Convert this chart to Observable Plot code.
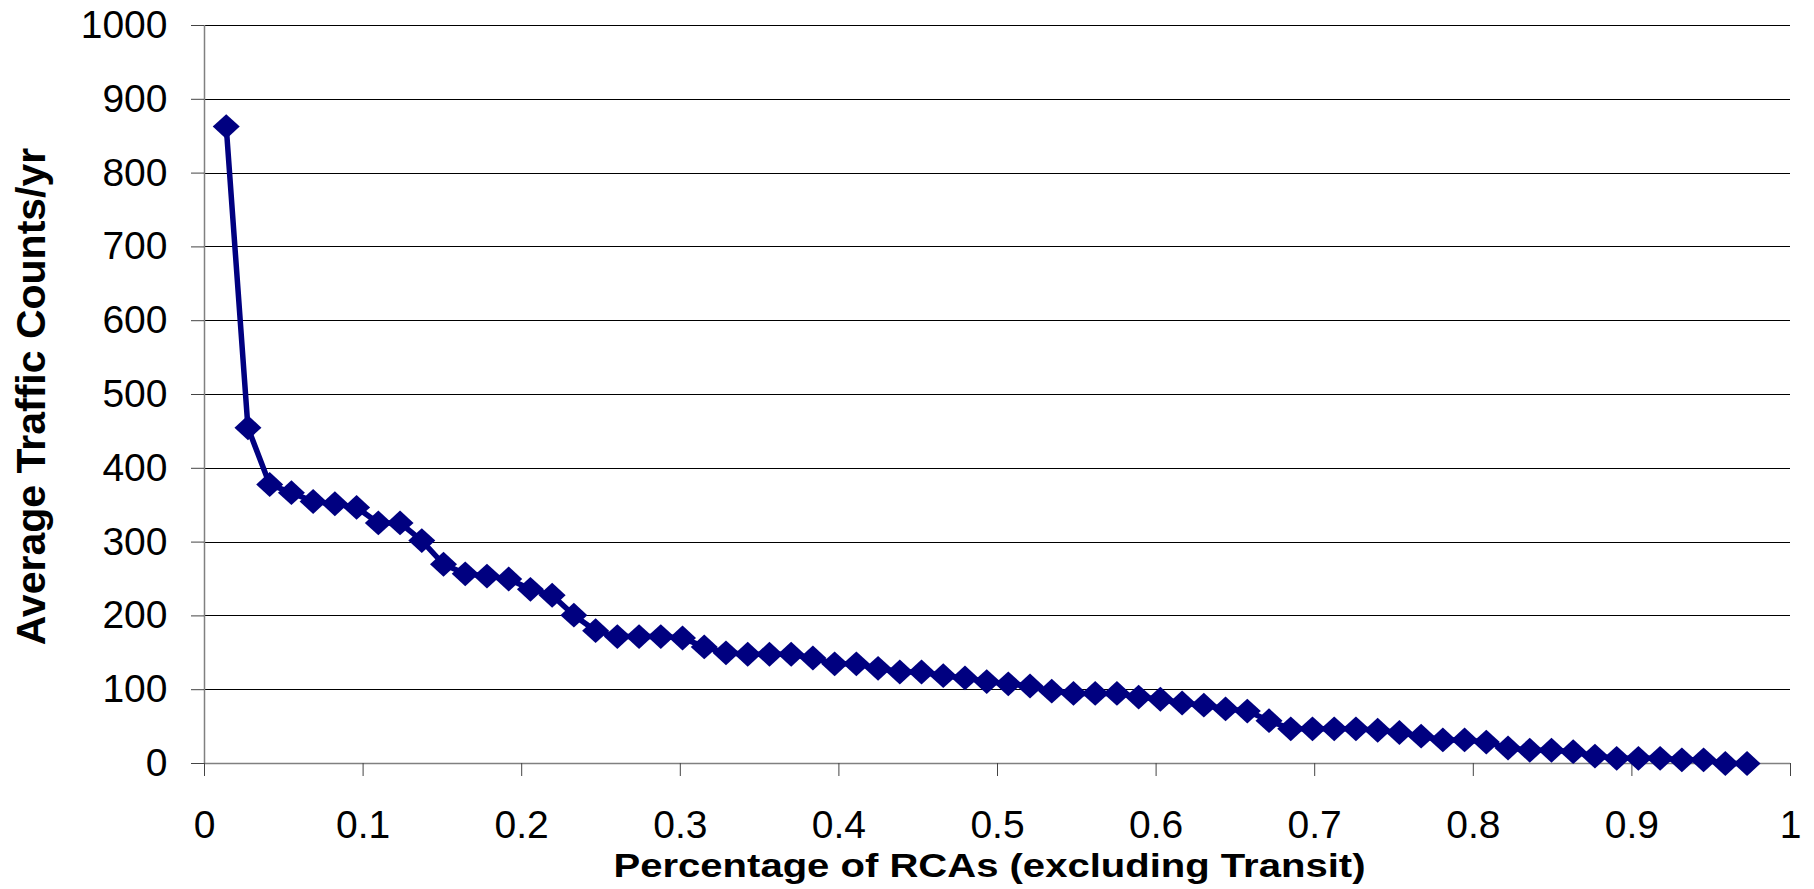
<!DOCTYPE html>
<html>
<head>
<meta charset="utf-8">
<script src="https://cdn.jsdelivr.net/npm/d3@7"></script>
<script src="https://cdn.jsdelivr.net/npm/@observablehq/plot@0.6"></script>
<style>
  html, body { margin: 0; padding: 0; background: #fff; }
  #chart svg { display: block; }
</style>
</head>
<body>
<div id="chart"></div>
<script>
// Share of RCAs (rank order, excluding Transit)
const shareRCAs = [
  0.0137, 0.0274, 0.0411, 0.0548, 0.0685, 0.0822, 0.0959, 0.1096, 0.1233, 0.1370,
  0.1507, 0.1644, 0.1781, 0.1918, 0.2055, 0.2192, 0.2329, 0.2466, 0.2603, 0.2740,
  0.2877, 0.3014, 0.3151, 0.3288, 0.3425, 0.3562, 0.3699, 0.3836, 0.3973, 0.4110,
  0.4247, 0.4384, 0.4521, 0.4658, 0.4795, 0.4932, 0.5068, 0.5205, 0.5342, 0.5479,
  0.5616, 0.5753, 0.5890, 0.6027, 0.6164, 0.6301, 0.6438, 0.6575, 0.6712, 0.6849,
  0.6986, 0.7123, 0.7260, 0.7397, 0.7534, 0.7671, 0.7808, 0.7945, 0.8082, 0.8219,
  0.8356, 0.8493, 0.8630, 0.8767, 0.8904, 0.9041, 0.9178, 0.9315, 0.9452, 0.9589,
  0.9726
];
// Average traffic counts per year
const avgCounts = [
  863, 455, 378, 367, 355, 352, 347, 326, 326, 302,
  270, 257, 254, 250, 236, 228, 201, 180, 172, 172,
  172, 170, 158, 150, 148, 148, 148, 143, 135, 135,
  129, 124, 124, 119, 116, 111, 108, 105, 98, 95,
  95, 95, 90, 87, 82, 79, 74, 71, 58, 47,
  47, 47, 47, 45, 42, 37, 32, 32, 29, 21,
  18, 18, 16, 10, 7, 7, 7, 5, 5, 0,
  0
];
const xTicks = [0, 0.1, 0.2, 0.3, 0.4, 0.5, 0.6, 0.7, 0.8, 0.9, 1];
const yTicks = [0, 100, 200, 300, 400, 500, 600, 700, 800, 900, 1000];
const xTitle = "Percentage of RCAs (excluding Transit)";
const yTitle = "Average Traffic Counts/yr";

const data = shareRCAs.map((x, i) => ({x, y: avgCounts[i]}));

const diamond = {
  draw(ctx, size) {
    const s = Math.sqrt(size / Math.PI);
    const ry = s * 0.92;
    ctx.moveTo(0, -ry);
    ctx.lineTo(s, 0);
    ctx.lineTo(0, ry);
    ctx.lineTo(-s, 0);
    ctx.closePath();
  }
};

const navy = "#000080";

const chart = Plot.plot({
  width: 1814,
  height: 889,
  marginLeft: 204,
  marginRight: 24,
  marginTop: 25,
  marginBottom: 126,
  style: {fontFamily: "'Liberation Sans', Arial, sans-serif", fontSize: "39px", background: "#fff", color: "#000"},
  x: {domain: [0, 1]},
  y: {domain: [0, 1000]},
  marks: [
    Plot.ruleY(yTicks.filter(d => d > 0), {x1: 0, x2: 1, stroke: "#000", strokeWidth: 1, shapeRendering: "crispEdges"}),
    Plot.ruleY([0], {x1: 0, x2: 1, stroke: "#808080", strokeWidth: 1.5}),
    Plot.ruleX([0], {y1: 0, y2: 1000, stroke: "#808080", strokeWidth: 1.5}),
    Plot.axisX({ticks: xTicks, tickSize: 13, tickPadding: 34, tickFormat: d => String(d), label: null, stroke: "#444"}),
    Plot.axisY({ticks: yTicks, tickSize: 13, tickPadding: 24, tickFormat: d => String(d), label: null, stroke: "#444"}),
    Plot.line(data, {x: "x", y: "y", stroke: navy, strokeWidth: 5.5}),
    Plot.dot(data, {x: "x", y: "y", symbol: diamond, r: 13.5, fill: navy, stroke: "none"}),
    Plot.text([yTitle], {text: d => d, frameAnchor: "left", rotate: -90, dx: -173, dy: 2, fontSize: 41, fontWeight: "bold", textAnchor: "middle", lineAnchor: "middle"}),
    Plot.text([xTitle], {text: d => d, frameAnchor: "bottom", dx: -8, dy: 103, fontSize: 34, fontWeight: "bold", textAnchor: "middle", lineAnchor: "middle"})
  ]
});

document.getElementById("chart").appendChild(chart);

d3.select(chart).selectAll("text")
  .filter(function() { return this.textContent === xTitle; })
  .attr("textLength", 752)
  .attr("lengthAdjust", "spacingAndGlyphs");
</script>
</body>
</html>
